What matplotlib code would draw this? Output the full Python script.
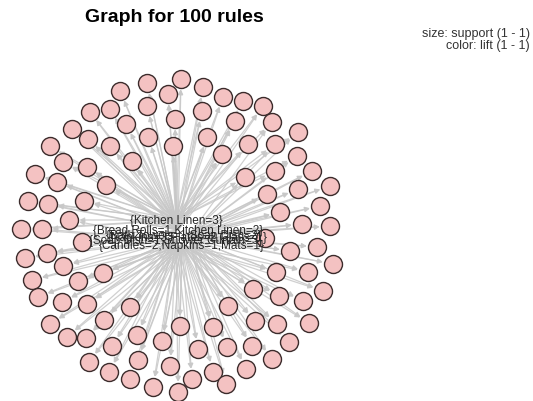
import numpy as np
import matplotlib
matplotlib.use('Agg')
import matplotlib.pyplot as plt
from matplotlib.patches import FancyArrowPatch

# ----------------------------------------------------------
# rule nodes (layout, pixel units)
# ----------------------------------------------------------
rule_x = [147, 181, 120, 168, 203, 223, 243, 263, 90, 110,
          147, 202, 126, 175, 235, 272, 298, 72, 88, 110,
          148, 173, 207, 248, 275, 50, 63, 87, 132, 222,
          297, 35, 57, 106, 245, 275, 312, 330, 298, 267,
          28, 48, 84, 320, 280, 69, 21, 42, 302, 330,
          82, 265, 290, 317, 25, 47, 333, 63, 103, 276,
          308, 32, 78, 253, 279, 303, 323, 38, 62, 87,
          130, 228, 50, 104, 255, 277, 309, 180, 213, 67,
          86, 137, 112, 162, 289, 198, 227, 252, 89, 138,
          170, 272, 109, 213, 246, 130, 153, 192, 226, 178]
rule_y = [84, 80, 92, 95, 88, 98, 102, 107, 113, 110,
          107, 112, 125, 120, 122, 123, 133, 130, 140, 147,
          138, 147, 138, 145, 145, 147, 163, 168, 162, 155,
          157, 175, 183, 186, 178, 172, 172, 187, 190, 195,
          202, 205, 202, 207, 213, 221, 230, 230, 225, 227,
          243, 239, 252, 248, 259, 254, 265, 267, 274, 273,
          273, 281, 282, 290, 297, 302, 292, 298, 303, 305,
          308, 307, 325, 321, 322, 325, 324, 327, 328, 338,
          339, 336, 347, 342, 343, 350, 348, 347, 363, 361,
          367, 360, 373, 373, 370, 380, 388, 380, 385, 393]

# item labels in the middle (mostly overlapping, unreadable in the original)
item_labels = ['{Kitchen Linen=3}',
               '{Bread Rolls=1,Kitchen Linen=2}',
               '{Bath Towels=1,Soap Dish=2}',
               '{Soap Dish=1,Shower Curtain=3}',
               '{Candles=2,Napkins=1,Mats=1}',
               '{Napkins=3,Plates=2,Glass=1}']
item_x = [176, 178, 184, 176, 182, 188]
item_y = [221, 231, 236, 241, 246, 238]

title = 'Graph for 100 rules'
legend_lines = ['size: support (1 - 1)', 'color: lift (1 - 1)']

W, H = 533, 402
fig = plt.figure(figsize=(W / 100, H / 100), dpi=100)
ax = fig.add_axes([0, 0, 1, 1])
ax.set_xlim(0, W)
ax.set_ylim(H, 0)
ax.axis('off')

node_d = 18  # node diameter in pixels
pt = 72 / 100  # points per pixel

# edges: each rule hooks to its two nearest item labels
rx = np.array(rule_x)
ry = np.array(rule_y)
ix = np.array(item_x)
iy = np.array(item_y)
for i in range(len(rx)):
    d = np.hypot(ix - rx[i], iy - ry[i]) + np.arange(len(ix)) * 0.1 * ((i % 3) - 1)
    for j in np.argsort(d)[:2]:
        arr = FancyArrowPatch((ix[j], iy[j]), (rx[i], ry[i]),
                              arrowstyle='-|>', mutation_scale=7,
                              shrinkA=0, shrinkB=node_d / 2 * pt + 1,
                              color='#c8c8c8', lw=0.9, alpha=0.85, zorder=1)
        ax.add_patch(arr)

ax.scatter(rx, ry, s=(node_d * pt) ** 2, facecolor='#f4c2c2',
           edgecolor='#3b2b2b', linewidth=1.0, zorder=2)

for lab, x, y in zip(item_labels, item_x, item_y):
    ax.text(x, y, lab, ha='center', va='center', fontsize=8.5,
            color='#262626', family='Liberation Sans', zorder=3)

ax.text(174, 17, title, ha='center', va='center', fontsize=14,
        fontweight='bold', family='Liberation Sans')
ax.text(530, 34, legend_lines[0], ha='right', va='center', fontsize=9,
        color='#333333', family='Liberation Sans')
ax.text(530, 46, legend_lines[1], ha='right', va='center', fontsize=9,
        color='#333333', family='Liberation Sans')

fig.savefig('out.png', dpi=100)
